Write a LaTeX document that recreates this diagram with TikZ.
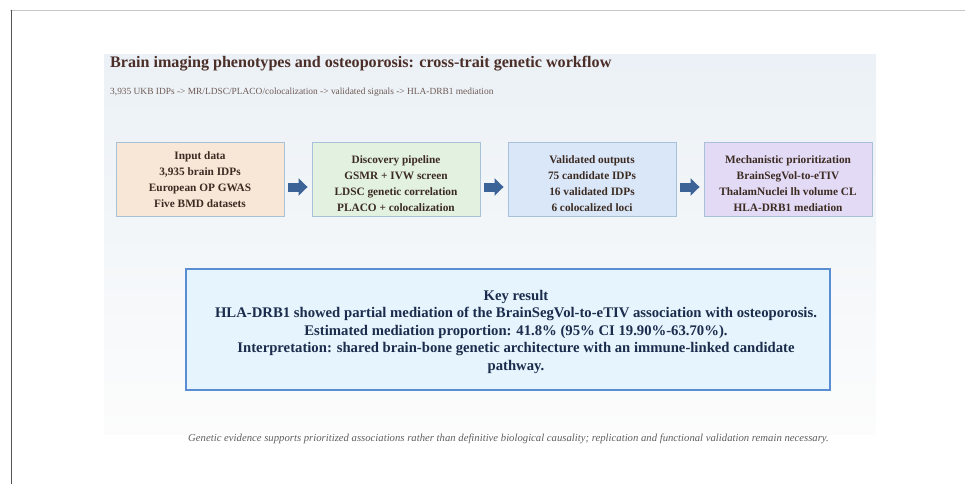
\documentclass[tikz,border=0pt]{standalone}
\usepackage{fontspec}
\setmainfont{Liberation Serif}
\usetikzlibrary{arrows.meta}

\definecolor{titlebrown}{HTML}{4B2E27}
\definecolor{subbrown}{HTML}{6E5B55}
\definecolor{boxtext}{HTML}{3B2B22}
\definecolor{boxedge}{HTML}{A9C0D9}
\definecolor{fillinput}{HTML}{F8E6D6}
\definecolor{filldisc}{HTML}{E2F1E0}
\definecolor{fillvalid}{HTML}{DAE7F8}
\definecolor{fillmech}{HTML}{E3DAF5}
\definecolor{arrowblue}{HTML}{3C6398}
\definecolor{keyfill}{HTML}{E5F4FD}
\definecolor{keyedge}{HTML}{5A8ED4}
\definecolor{keytext}{HTML}{1C2C4C}
\definecolor{notegray}{HTML}{5E5E5E}

% four centred lines, moved up by #1 without changing the box size
\newcommand{\stagelines}[5]{\raisebox{#1}[\height][\depth]{\begin{tabular}{@{}c@{}}#2\\#3\\#4\\#5\end{tabular}}}

\tikzset{
  stagebox/.style={draw=boxedge, line width=0.9pt, minimum width=168pt, minimum height=74pt,
    inner sep=0pt, align=center, text=boxtext,
    font=\fontsize{11.3pt}{16pt}\selectfont\bfseries},
  flowarrow/.style={draw=arrowblue, line width=9pt,
    -{Triangle[length=9pt,width=17pt]}, shorten <=4pt, shorten >=4pt},
  keybox/.style={draw=keyedge, fill=keyfill, line width=1.4pt, minimum width=644pt,
    minimum height=121pt, inner sep=0pt, align=center, text=keytext,
    font=\fontsize{14.7pt}{17.5pt}\selectfont\bfseries},
}

\begin{document}
\begin{tikzpicture}[x=1pt, y=-1pt]
  % page extent
  \useasboundingbox (0,0) rectangle (965,484);
  \fill[white] (0,0) rectangle (965,484);

  % frame lines
  \draw[color=black!22, line width=1.5pt] (10,10.5) -- (965,10.5);
  \draw[color=black!67, line width=1pt] (11,10) -- (11,484);

  % shaded panel
  \shade[top color={rgb,255:red,235;green,241;blue,246}, bottom color={rgb,255:red,252;green,252;blue,252}]
    (104,55) rectangle (876,434);

  % heading
  \node[anchor=base west, inner sep=0pt, text=titlebrown, font=\fontsize{16.1pt}{18pt}\selectfont\bfseries]
    (title) at (110,68) {Brain imaging phenotypes and osteoporosis: cross-trait genetic workflow};
  \node[anchor=base west, inner sep=0pt, text=subbrown, font=\fontsize{9.4pt}{12pt}\selectfont]
    (subtitle) at (110,95) {3,935 UKB IDPs -> MR/LDSC/PLACO/colocalization -> validated signals -> HLA-DRB1 mediation};

  % workflow stages
  \node[stagebox, fill=fillinput] (input) at (200,179.5)
    {\stagelines{-0.5pt}{Input data}{3,935 brain IDPs}{European OP GWAS}{Five BMD datasets}};
  \node[stagebox, fill=filldisc] (disc) at (396,179.5)
    {\stagelines{-4.5pt}{Discovery pipeline}{GSMR + IVW screen}{LDSC genetic correlation}{PLACO + colocalization}};
  \node[stagebox, fill=fillvalid] (valid) at (592,179.5)
    {\stagelines{-4.5pt}{Validated outputs}{75 candidate IDPs}{16 validated IDPs}{6 colocalized loci}};
  \node[stagebox, fill=fillmech] (mech) at (788,179.5)
    {\stagelines{-4.5pt}{Mechanistic prioritization}{BrainSegVol-to-eTIV}{ThalamNuclei lh volume CL}{HLA-DRB1 mediation}};

  % connectors between stages
  \draw[flowarrow] ([yshift=-7.5pt]input.east) -- ([yshift=-7.5pt]disc.west);
  \draw[flowarrow] ([yshift=-7.5pt]disc.east) -- ([yshift=-7.5pt]valid.west);
  \draw[flowarrow] ([yshift=-7.5pt]valid.east) -- ([yshift=-7.5pt]mech.west);

  % key result
  \node[keybox] (key) at (508,329.5)
    {\hspace*{16pt}\raisebox{-2pt}[\height][\depth]{\begin{tabular}{@{}c@{}}Key result\\
     HLA-DRB1 showed partial mediation of the BrainSegVol-to-eTIV association with osteoporosis.\\
     Estimated mediation proportion: 41.8\% (95\% CI 19.90\%-63.70\%).\\
     Interpretation: shared brain-bone genetic architecture with an immune-linked candidate\\
     pathway.\end{tabular}}};

  % closing note
  \node[anchor=base, inner sep=0pt, text=notegray, font=\fontsize{10.7pt}{12pt}\selectfont\itshape]
    (note) at (508.5,441)
    {Genetic evidence supports prioritized associations rather than definitive biological causality; replication and functional validation remain necessary.};
\end{tikzpicture}
\end{document}
